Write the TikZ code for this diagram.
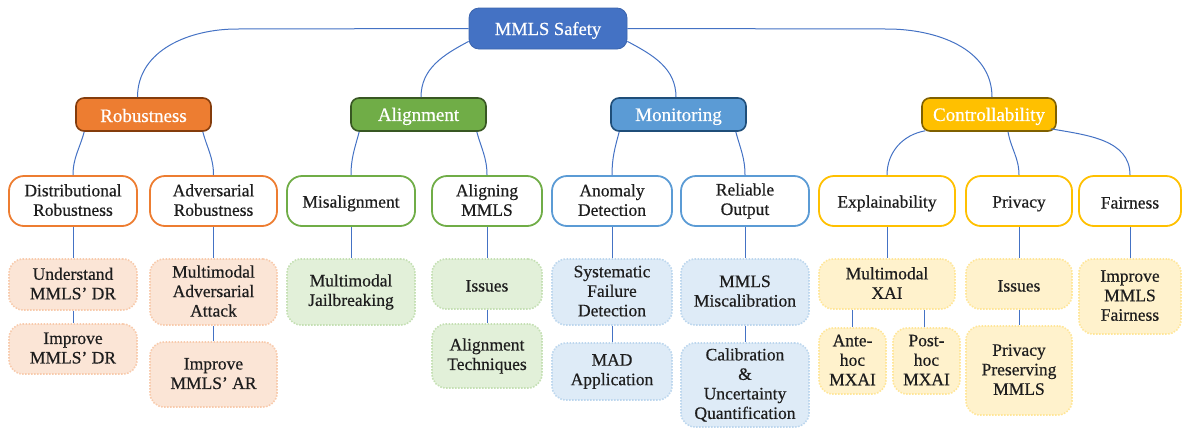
\documentclass[tikz,border=0pt]{standalone}
\usepackage{fontspec}
\setmainfont[FakeBold=0.5]{Liberation Serif}
\definecolor{rootc}{HTML}{4472C4}
\definecolor{rootd}{HTML}{3B64AD}
\definecolor{linkc}{HTML}{4472C4}
\definecolor{txt}{HTML}{1E1E1E}
\definecolor{orC}{HTML}{ED7D31}\definecolor{orD}{HTML}{843C0C}\definecolor{orF}{HTML}{FBE5D6}\definecolor{orB}{HTML}{F8CBAD}
\definecolor{grC}{HTML}{70AD47}\definecolor{grD}{HTML}{385723}\definecolor{grF}{HTML}{E2F0D9}\definecolor{grB}{HTML}{C5E0B4}
\definecolor{blC}{HTML}{5B9BD5}\definecolor{blD}{HTML}{1F4E79}\definecolor{blF}{HTML}{DEEBF7}\definecolor{blB}{HTML}{BDD7EE}
\definecolor{ylC}{HTML}{FFC000}\definecolor{ylD}{HTML}{7F6000}\definecolor{ylF}{HTML}{FFF2CC}\definecolor{ylB}{HTML}{FFE699}
\newcommand{\topstrt}{\rule{0pt}{17pt}}
\newcommand{\botstrt}{\rule[-2pt]{0pt}{2pt}}
\begin{document}
\begin{tikzpicture}[x=1pt,y=1pt,
  base/.style={rectangle, inner sep=0pt, align=center, text=txt, font=\fontsize{17.5}{19.5}\selectfont,
    execute at begin node={\topstrt}, execute at end node={\botstrt}},
  rootbox/.style={base, fill=rootc, draw=rootd, line width=0.8pt, rounded corners=10pt, text=white, font=\fontsize{18.5}{21}\selectfont},
  catbox/.style={base, line width=1.6pt, rounded corners=8pt, text=white, font=\fontsize{19}{21}\selectfont, minimum width=135pt, minimum height=33pt},
  subbox/.style={base, fill=white, line width=1.8pt, rounded corners=15pt, minimum height=50pt},
  leafbox/.style={base, line width=1.6pt, dash pattern=on 1.5pt off 1.5pt, rounded corners=14pt},
  orsub/.style={subbox, draw=orC}, grsub/.style={subbox, draw=grC}, blsub/.style={subbox, draw=blC}, ylsub/.style={subbox, draw=ylC},
  orleaf/.style={leafbox, fill=orF, draw=orB}, grleaf/.style={leafbox, fill=grF, draw=grB},
  blleaf/.style={leafbox, fill=blF, draw=blB}, ylleaf/.style={leafbox, fill=ylF, draw=ylB},
  link/.style={draw=linkc, line width=1pt}
]
\useasboundingbox (0,0) rectangle (1182,-429);

% root and categories
\node[rootbox, minimum width=158pt, minimum height=41pt] (root) at (548,-28.5) {MMLS Safety};
\node[catbox, fill=orC, draw=orD] (rob) at (143.5,-114.5) {Robustness};
\node[catbox, fill=grC, draw=grD] (ali) at (418.5,-114.5) {Alignment};
\node[catbox, fill=blC, draw=blD] (mon) at (678.5,-114.5) {Monitoring};
\node[catbox, fill=ylC, draw=ylD, minimum width=134pt] (ctl) at (989,-114.5) {Controllability};

% second level
\node[orsub, minimum width=128pt] (dr) at (73,-201) {Distributional\\Robustness};
\node[orsub, minimum width=127pt] (ar) at (213.5,-201) {Adversarial\\Robustness};
\node[grsub, minimum width=128pt] (mis) at (351,-201) {Misalignment};
\node[grsub, minimum width=110pt] (alm) at (487,-201) {Aligning\\MMLS};
\node[blsub, minimum width=120pt] (ano) at (612,-201) {Anomaly\\Detection};
\node[blsub, minimum width=128pt] (rel) at (745,-201) {Reliable\\Output};
\node[ylsub, minimum width=136pt] (exp) at (887,-201) {Explainability};
\node[ylsub, minimum width=106pt] (pri) at (1019,-201) {Privacy};
\node[ylsub, minimum width=102pt] (fai) at (1130,-201) {Fairness};

% leaves
\node[orleaf, minimum width=128pt, minimum height=51pt] (und) at (73,-284.5) {Understand\\MMLS’ DR};
\node[orleaf, minimum width=128pt, minimum height=50pt] (idr) at (73,-349) {Improve\\MMLS’ DR};
\node[orleaf, minimum width=127pt, minimum height=66pt] (maa) at (213.5,-292) {Multimodal\\Adversarial\\Attack};
\node[orleaf, minimum width=127pt, minimum height=65pt] (iar) at (213.5,-374.5) {Improve\\MMLS’ AR};
\node[grleaf, minimum width=128pt, minimum height=66pt] (mj) at (351,-292) {Multimodal\\Jailbreaking};
\node[grleaf, minimum width=110pt, minimum height=50pt] (ais) at (487,-284) {Issues};
\node[grleaf, minimum width=110pt, minimum height=64pt] (ate) at (487,-356) {Alignment\\Techniques};
\node[blleaf, minimum width=120pt, minimum height=66pt] (sfd) at (612,-292) {Systematic\\Failure\\Detection};
\node[blleaf, minimum width=120pt, minimum height=57pt] (mad) at (612,-371.5) {MAD\\Application};
\node[blleaf, minimum width=128pt, minimum height=66pt] (mmc) at (745,-292) {MMLS\\Miscalibration};
\node[blleaf, minimum width=128pt, minimum height=84pt] (cal) at (745,-385) {Calibration\\\&\\Uncertainty\\Quantification};
\node[ylleaf, minimum width=136pt, minimum height=50pt] (mxa) at (887,-284) {Multimodal\\XAI};
\node[ylleaf, minimum width=67pt, minimum height=66pt] (ante) at (852.5,-361) {Ante-\\hoc\\MXAI};
\node[ylleaf, minimum width=67pt, minimum height=66pt] (post) at (926.5,-361) {Post-\\hoc\\MXAI};
\node[ylleaf, minimum width=106pt, minimum height=50pt] (pis) at (1019,-284) {Issues};
\node[ylleaf, minimum width=106pt, minimum height=89pt] (ppm) at (1019,-370.5) {Privacy\\Preserving\\MMLS};
\node[ylleaf, minimum width=102pt, minimum height=75pt] (imf) at (1130,-296.5) {Improve\\MMLS\\Fairness};

% root connectors
\coordinate (rl) at (237,-29);
\coordinate (rr) at (887,-29);
\draw[link] (root.west) -- (rl) to[out=180,in=90] ([xshift=-6pt]rob.north);
\draw[link] (root.east) -- (rr) to[out=0,in=90] ([xshift=3pt]ctl.north);
\draw[link] ([yshift=8pt]root.south west) to[out=208,in=90] ([xshift=2.5pt]ali.north);
\draw[link] ([yshift=8pt]root.south east) to[out=-28,in=90] ([xshift=-2.5pt]mon.north);

% category to second level
\draw[link] ([xshift=9pt]rob.south west) to[out=-105,in=90] (dr.north);
\draw[link] ([xshift=-9pt]rob.south east) to[out=-75,in=90] (ar.north);
\draw[link] ([xshift=9pt]ali.south west) to[out=-105,in=90] (mis.north);
\draw[link] ([xshift=-10pt]ali.south east) to[out=-75,in=90] (alm.north);
\draw[link] ([xshift=9pt]mon.south west) to[out=-105,in=90] (ano.north);
\draw[link] ([xshift=-11pt]mon.south east) to[out=-75,in=90] (rel.north);
\draw[link] ([xshift=4pt,yshift=1pt]ctl.south west) to[out=190,in=90] (exp.north);
\draw[link] ([xshift=19pt]ctl.south) to[out=-80,in=90] (pri.north);
\draw[link] ([xshift=-6pt,yshift=3pt]ctl.south east) to[out=-10,in=90] (fai.north);

% second level to leaves
\draw[link] (dr) -- (und);
\draw[link] (und) -- (idr);
\draw[link] (ar) -- (maa);
\draw[link] (maa) -- (iar);
\draw[link] (mis) -- (mj);
\draw[link] (alm) -- (ais);
\draw[link] (ais) -- (ate);
\draw[link] (ano) -- (sfd);
\draw[link] (sfd) -- (mad);
\draw[link] (rel) -- (mmc);
\draw[link] (mmc) -- (cal);
\draw[link] (exp) -- (mxa);
\draw[link] (ante.north |- mxa.south) -- (ante.north);
\draw[link] ([xshift=-2.5pt]post.north |- mxa.south) -- ([xshift=-2.5pt]post.north);
\draw[link] (pri) -- (pis);
\draw[link] (pis) -- (ppm);
\draw[link] (fai) -- (imf);
\end{tikzpicture}
\end{document}
